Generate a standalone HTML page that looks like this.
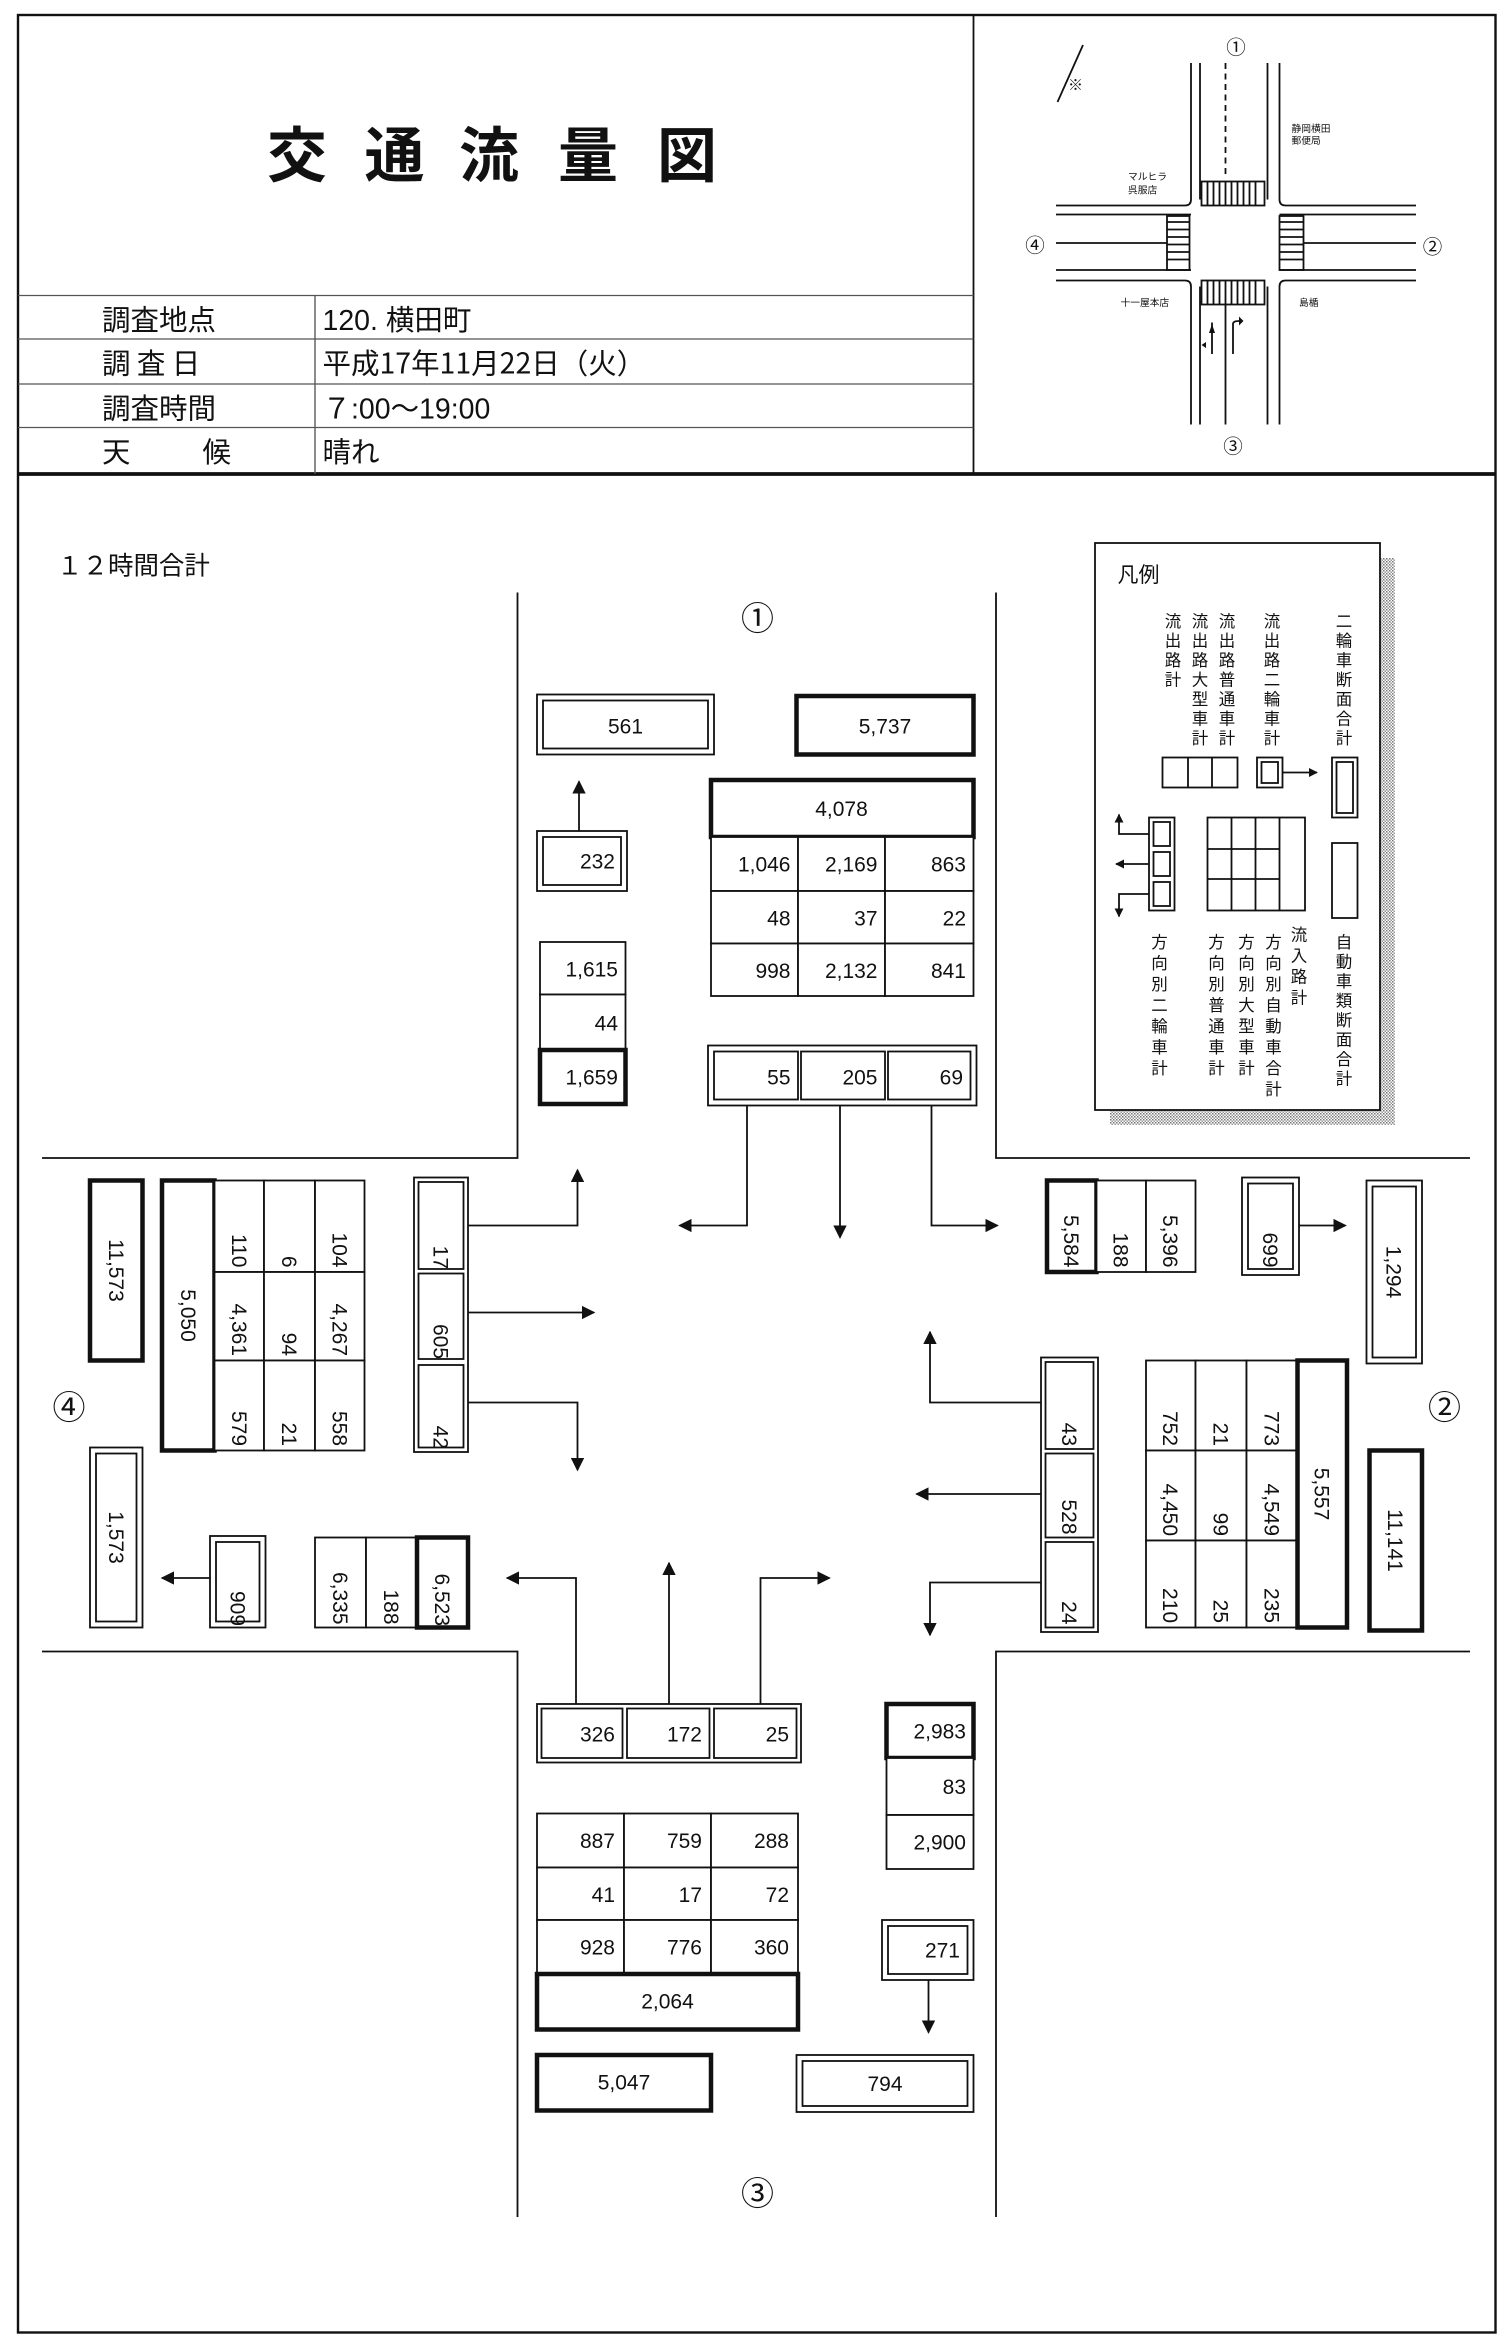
<!DOCTYPE html>
<html><head><meta charset="utf-8"><style>
html,body{margin:0;padding:0;background:#fff}
svg{display:block}
text{font-family:"Liberation Sans","Noto Sans CJK JP",sans-serif;fill:#111}
.n{font-size:14px}
.r{fill:#fff;stroke:#111;stroke-width:1.2}
.t{fill:#fff;stroke:#111;stroke-width:3}
.l{stroke:#111;stroke-width:1.2;fill:none}
.j{font-family:"Noto Sans CJK JP","Liberation Sans",sans-serif}
</style></head><body>
<svg width="1500" height="2338" viewBox="0 0 1000 1558.67" xmlns="http://www.w3.org/2000/svg">
<defs>
<marker id="a" viewBox="0 0 10 10" refX="9" refY="5" markerWidth="9" markerHeight="9" markerUnits="userSpaceOnUse" orient="auto"><path d="M0,0L10,5L0,10z" fill="#111"/></marker>
<marker id="s" viewBox="0 0 10 10" refX="9" refY="5" markerWidth="6" markerHeight="6" markerUnits="userSpaceOnUse" orient="auto"><path d="M0,0L10,5L0,10z" fill="#111"/></marker>
<pattern id="h" width="2" height="2" patternUnits="userSpaceOnUse"><rect width="1" height="1" fill="#777"/><rect x="1" y="1" width="1" height="1" fill="#999"/></pattern>
</defs>
<rect x="12" y="10" width="985" height="1545" fill="none" stroke="#111" stroke-width="1.6"/>
<line x1="12" y1="316" x2="997" y2="316" stroke="#111" stroke-width="2.5"/>
<line x1="649" y1="10" x2="649" y2="316" class="l"/>
<g stroke="#555" stroke-width="0.9">
<line x1="12" y1="197" x2="649" y2="197"/><line x1="12" y1="226" x2="649" y2="226"/>
<line x1="12" y1="256" x2="649" y2="256"/><line x1="12" y1="285" x2="649" y2="285"/>
<line x1="210" y1="197" x2="210" y2="316"/></g>
<g class="j" font-size="40" font-weight="bold" text-anchor="middle">
<text x="198" y="118" class="j">交</text><text x="263" y="118" class="j">通</text><text x="326" y="118" class="j">流</text><text x="392" y="118" class="j">量</text><text x="458" y="118" class="j">図</text></g>
<g font-size="19">
<text x="68" y="220" class="j">調査地点</text><text x="215" y="220">120. <tspan class="j">横田町</tspan></text>
<text x="68" y="249" class="j">調 査 日</text><text x="215" y="249" class="j">平成17年11月22日（火）</text>
<text x="68" y="279" class="j">調査時間</text><text x="215" y="279">７:00～19:00</text>
<text x="68" y="308" class="j">天</text><text x="135" y="308" class="j">候</text><text x="215" y="308" class="j">晴れ</text></g>
<g class="l" stroke-width="0.9">
<path d="M794,42V133M800,42V133M845,42V133M853,42V133"/>
<path d="M794,191V283M800,191V283M845,191V283M853,191V283"/>
<path d="M704,137H790M704,143H794M704,180H794M704,187H790"/>
<path d="M857,137H944M853,143H944M853,180H944M857,187H944"/>
<path d="M790,137Q794,137 794,133M857,137Q853,137 853,133M790,187Q794,187 794,191M857,187Q853,187 853,191"/>
<path d="M817,42V118" stroke-dasharray="4,3"/><path d="M704,162H778M869,162H944M817,203V283"/>
<rect x="801" y="121" width="42" height="16"/><rect x="801" y="187" width="42" height="16"/>
<rect x="778" y="144" width="15" height="36"/><rect x="853" y="144" width="16" height="36"/>
<path d="M805,121v16M809,121v16M813,121v16M817,121v16M821,121v16M825,121v16M829,121v16M833,121v16M837,121v16M805,187v16M809,187v16M813,187v16M817,187v16M821,187v16M825,187v16M829,187v16M833,187v16M837,187v16"/>
<path d="M778,148h15M778,153h15M778,158h15M778,163h15M778,168h15M778,173h15M853,148h16M853,153h16M853,158h16M853,163h16M853,168h16M853,173h16"/>
<path d="M808,236V215M822,236V216Q822,214 826,214" /><path d="M722,30L705,68"/>
</g>
<path d="M806,222l2,-6l2,6zM804,228l-3,2l3,2z M826,211l3,3l-3,3z" fill="#111"/>
<text x="712" y="60" font-size="10">※</text>
<g font-size="13" text-anchor="middle"><text x="824" y="36">①</text><text x="690" y="168">④</text><text x="955" y="169">②</text><text x="822" y="302">③</text></g>
<g font-size="6.5" class="j"><text x="752" y="120" class="j">マルヒラ</text><text x="752" y="129" class="j">呉服店</text>
<text x="861" y="88" class="j">静岡横田</text><text x="861" y="96" class="j">郵便局</text>
<text x="747" y="204" class="j">十一屋本店</text><text x="866" y="204" class="j">島楯</text></g>
<text x="38" y="383" font-size="17" class="j">１２時間合計</text>
<g class="l" stroke-width="1.4">
<path d="M345,395V772H28M664,395V772H980M28,1101H345V1478M980,1101H664V1478"/></g>
<g font-size="22" text-anchor="middle"><text x="505" y="420">①</text><text x="963" y="946">②</text><text x="505" y="1470">③</text><text x="46" y="946">④</text></g>

<rect x="740" y="372" width="190" height="378" fill="url(#h)"/>
<rect x="730" y="362" width="190" height="378" fill="#fff" stroke="#111" stroke-width="1.2"/>
<text x="745" y="388" font-size="14" class="j">凡例</text>
<g font-size="11" class="j" text-anchor="middle">
<text class="j" x="782" y="418"><tspan x="782">流</tspan><tspan x="782" dy="13">出</tspan><tspan x="782" dy="13">路</tspan><tspan x="782" dy="13">計</tspan></text>
<text class="j" x="800" y="418"><tspan x="800">流</tspan><tspan x="800" dy="13">出</tspan><tspan x="800" dy="13">路</tspan><tspan x="800" dy="13">大</tspan><tspan x="800" dy="13">型</tspan><tspan x="800" dy="13">車</tspan><tspan x="800" dy="13">計</tspan></text>
<text class="j" x="818" y="418"><tspan x="818">流</tspan><tspan x="818" dy="13">出</tspan><tspan x="818" dy="13">路</tspan><tspan x="818" dy="13">普</tspan><tspan x="818" dy="13">通</tspan><tspan x="818" dy="13">車</tspan><tspan x="818" dy="13">計</tspan></text>
<text class="j" x="848" y="418"><tspan x="848">流</tspan><tspan x="848" dy="13">出</tspan><tspan x="848" dy="13">路</tspan><tspan x="848" dy="13">二</tspan><tspan x="848" dy="13">輪</tspan><tspan x="848" dy="13">車</tspan><tspan x="848" dy="13">計</tspan></text>
<text class="j" x="896" y="418"><tspan x="896">二</tspan><tspan x="896" dy="13">輪</tspan><tspan x="896" dy="13">車</tspan><tspan x="896" dy="13">断</tspan><tspan x="896" dy="13">面</tspan><tspan x="896" dy="13">合</tspan><tspan x="896" dy="13">計</tspan></text>
<text class="j" x="773" y="632"><tspan x="773">方</tspan><tspan x="773" dy="14">向</tspan><tspan x="773" dy="14">別</tspan><tspan x="773" dy="14">二</tspan><tspan x="773" dy="14">輪</tspan><tspan x="773" dy="14">車</tspan><tspan x="773" dy="14">計</tspan></text>
<text class="j" x="811" y="632"><tspan x="811">方</tspan><tspan x="811" dy="14">向</tspan><tspan x="811" dy="14">別</tspan><tspan x="811" dy="14">普</tspan><tspan x="811" dy="14">通</tspan><tspan x="811" dy="14">車</tspan><tspan x="811" dy="14">計</tspan></text>
<text class="j" x="831" y="632"><tspan x="831">方</tspan><tspan x="831" dy="14">向</tspan><tspan x="831" dy="14">別</tspan><tspan x="831" dy="14">大</tspan><tspan x="831" dy="14">型</tspan><tspan x="831" dy="14">車</tspan><tspan x="831" dy="14">計</tspan></text>
<text class="j" x="849" y="632"><tspan x="849">方</tspan><tspan x="849" dy="14">向</tspan><tspan x="849" dy="14">別</tspan><tspan x="849" dy="14">自</tspan><tspan x="849" dy="14">動</tspan><tspan x="849" dy="14">車</tspan><tspan x="849" dy="14">合</tspan><tspan x="849" dy="14">計</tspan></text>
<text class="j" x="866" y="627"><tspan x="866">流</tspan><tspan x="866" dy="14">入</tspan><tspan x="866" dy="14">路</tspan><tspan x="866" dy="14">計</tspan></text>
<text class="j" x="896" y="632"><tspan x="896">自</tspan><tspan x="896" dy="13">動</tspan><tspan x="896" dy="13">車</tspan><tspan x="896" dy="13">類</tspan><tspan x="896" dy="13">断</tspan><tspan x="896" dy="13">面</tspan><tspan x="896" dy="13">合</tspan><tspan x="896" dy="13">計</tspan></text>
</g>
<g class="l" stroke-width="1.1">
<rect x="775" y="505" width="50" height="20" fill="#fff"/><path d="M792,505v20M808,505v20"/>
<rect x="838" y="505" width="17" height="20"/><rect x="841" y="508" width="11" height="14"/>
<path d="M855,515H878" marker-end="url(#s)"/>
<rect x="888" y="505" width="17" height="40"/><rect x="891" y="508" width="11" height="34"/>
<rect x="766" y="545" width="17" height="62"/><rect x="769" y="548" width="11" height="16"/><rect x="769" y="568" width="11" height="16"/><rect x="769" y="588" width="11" height="16"/>
<path d="M766,556H746V543" marker-end="url(#s)"/><path d="M766,576H744" marker-end="url(#s)"/><path d="M766,596H746V611" marker-end="url(#s)"/>
<rect x="805" y="545" width="65" height="62"/><path d="M821,545v62M837,545v62M853,545v62M805,566h48M805,586h48"/>
<rect x="888" y="562" width="17" height="50"/>
</g>

<rect class="r" x="358" y="463" width="118" height="40"/><rect class="r" x="362" y="467" width="110" height="32"/><text class="n" x="417" y="489" text-anchor="middle">561</text>
<rect class="t" x="531" y="464" width="118" height="39"/><text class="n" x="590" y="489" text-anchor="middle">5,737</text>
<rect class="t" x="474" y="520" width="175" height="38"/><text class="n" x="561" y="544" text-anchor="middle">4,078</text>
<g class="n" text-anchor="end">
<rect class="r" x="474" y="558" width="58" height="36"/><rect class="r" x="532" y="558" width="58" height="36"/><rect class="r" x="590" y="558" width="59" height="36"/>
<rect class="r" x="474" y="594" width="58" height="35"/><rect class="r" x="532" y="594" width="58" height="35"/><rect class="r" x="590" y="594" width="59" height="35"/>
<rect class="r" x="474" y="629" width="58" height="35"/><rect class="r" x="532" y="629" width="58" height="35"/><rect class="r" x="590" y="629" width="59" height="35"/>
<text x="527" y="581">1,046</text><text x="585" y="581">2,169</text><text x="644" y="581">863</text>
<text x="527" y="617">48</text><text x="585" y="617">37</text><text x="644" y="617">22</text>
<text x="527" y="652">998</text><text x="585" y="652">2,132</text><text x="644" y="652">841</text>
<rect class="r" x="358" y="554" width="60" height="40"/><rect class="r" x="362" y="558" width="52" height="32"/><text x="410" y="579">232</text>
<rect class="r" x="360" y="628" width="57" height="35"/><text x="412" y="651">1,615</text>
<rect class="r" x="360" y="663" width="57" height="37"/><text x="412" y="687">44</text>
<rect class="t" x="360" y="700" width="57" height="36"/><text x="412" y="723">1,659</text>
<rect class="r" x="472" y="697" width="179" height="40"/>
<rect class="r" x="476" y="701" width="56" height="32"/><rect class="r" x="534" y="701" width="56" height="32"/><rect class="r" x="592" y="701" width="55" height="32"/>
<text x="527" y="723">55</text><text x="585" y="723">205</text><text x="642" y="723">69</text>
</g>
<g class="l">
<path d="M386,554V521" marker-end="url(#a)"/>
<path d="M498,737V817H453" marker-end="url(#a)"/>
<path d="M560,737V825" marker-end="url(#a)"/>
<path d="M621,737V817H665" marker-end="url(#a)"/>
</g>

<g class="n">
<rect class="t" x="60" y="787" width="35" height="120"/><text transform="translate(77.5,847) rotate(90)" y="5" text-anchor="middle">11,573</text>
<rect class="t" x="108" y="787" width="35" height="180"/><text transform="translate(125.5,877) rotate(90)" y="5" text-anchor="middle">5,050</text>
<rect class="r" x="143" y="787" width="33" height="61"/><rect class="r" x="176" y="787" width="34" height="61"/><rect class="r" x="210" y="787" width="33" height="61"/>
<rect class="r" x="143" y="848" width="33" height="59"/><rect class="r" x="176" y="848" width="34" height="59"/><rect class="r" x="210" y="848" width="33" height="59"/>
<rect class="r" x="143" y="907" width="33" height="60"/><rect class="r" x="176" y="907" width="34" height="60"/><rect class="r" x="210" y="907" width="33" height="60"/>
<g text-anchor="end">
<text transform="translate(159.5,845) rotate(90)" y="5">110</text><text transform="translate(193,845) rotate(90)" y="5">6</text><text transform="translate(226.5,845) rotate(90)" y="5">104</text>
<text transform="translate(159.5,904) rotate(90)" y="5">4,361</text><text transform="translate(193,904) rotate(90)" y="5">94</text><text transform="translate(226.5,904) rotate(90)" y="5">4,267</text>
<text transform="translate(159.5,964) rotate(90)" y="5">579</text><text transform="translate(193,964) rotate(90)" y="5">21</text><text transform="translate(226.5,964) rotate(90)" y="5">558</text>
<rect class="r" x="276" y="785" width="36" height="183"/>
<rect class="r" x="279" y="788" width="30" height="58"/><rect class="r" x="279" y="849" width="30" height="57"/><rect class="r" x="279" y="910" width="30" height="55"/>
<text transform="translate(294,846) rotate(90)" y="5">17</text><text transform="translate(294,906) rotate(90)" y="5">605</text><text transform="translate(294,966) rotate(90)" y="5">42</text>
<rect class="r" x="140" y="1024" width="37" height="61"/><rect class="r" x="144" y="1028" width="29" height="53"/>
<text transform="translate(158.5,1084) rotate(90)" y="5">909</text>
<rect class="r" x="210" y="1025" width="34" height="60"/><rect class="r" x="244" y="1025" width="34" height="60"/><rect class="t" x="278" y="1025" width="34" height="60"/>
<text transform="translate(227,1083) rotate(90)" y="5">6,335</text><text transform="translate(261,1083) rotate(90)" y="5">188</text><text transform="translate(295,1084) rotate(90)" y="5">6,523</text>
</g>
<rect class="r" x="60" y="965" width="35" height="120"/><rect class="r" x="64" y="969" width="27" height="112"/>
<text transform="translate(77.5,1025) rotate(90)" y="5" text-anchor="middle">1,573</text>
</g>
<g class="l">
<path d="M312,817H385V780" marker-end="url(#a)"/>
<path d="M312,875H396" marker-end="url(#a)"/>
<path d="M312,935H385V980" marker-end="url(#a)"/>
<path d="M140,1052H108" marker-end="url(#a)"/>
<path d="M384,1137V1052H338" marker-end="url(#a)"/>
<path d="M446,1137V1042" marker-end="url(#a)"/>
<path d="M507,1137V1052H553" marker-end="url(#a)"/>
</g>

<g class="n" text-anchor="end">
<rect class="r" x="358" y="1136" width="176" height="39"/>
<rect class="r" x="361" y="1139" width="54" height="33"/><rect class="r" x="418" y="1139" width="55" height="33"/><rect class="r" x="476" y="1139" width="55" height="33"/>
<text x="410" y="1161">326</text><text x="468" y="1161">172</text><text x="526" y="1161">25</text>
<rect class="t" x="591" y="1136" width="58" height="36"/><text x="644" y="1159">2,983</text>
<rect class="r" x="591" y="1172" width="58" height="38"/><text x="644" y="1196">83</text>
<rect class="r" x="591" y="1210" width="58" height="36"/><text x="644" y="1233">2,900</text>
<rect class="r" x="358" y="1209" width="58" height="36"/><rect class="r" x="416" y="1209" width="58" height="36"/><rect class="r" x="474" y="1209" width="58" height="36"/>
<rect class="r" x="358" y="1245" width="58" height="35"/><rect class="r" x="416" y="1245" width="58" height="35"/><rect class="r" x="474" y="1245" width="58" height="35"/>
<rect class="r" x="358" y="1280" width="58" height="36"/><rect class="r" x="416" y="1280" width="58" height="36"/><rect class="r" x="474" y="1280" width="58" height="36"/>
<text x="410" y="1232">887</text><text x="468" y="1232">759</text><text x="526" y="1232">288</text>
<text x="410" y="1268">41</text><text x="468" y="1268">17</text><text x="526" y="1268">72</text>
<text x="410" y="1303">928</text><text x="468" y="1303">776</text><text x="526" y="1303">360</text>
<rect class="r" x="588" y="1280" width="61" height="40"/><rect class="r" x="592" y="1284" width="53" height="32"/><text x="640" y="1305">271</text>
</g>
<g class="n" text-anchor="middle">
<rect class="t" x="358" y="1316" width="174" height="37"/><text x="445" y="1339">2,064</text>
<rect class="t" x="358" y="1370" width="116" height="37"/><text x="416" y="1393">5,047</text>
<rect class="r" x="531" y="1370" width="118" height="38"/><rect class="r" x="535" y="1374" width="110" height="30"/><text x="590" y="1394">794</text>
</g>
<path class="l" d="M619,1320V1355" marker-end="url(#a)"/>

<g class="n">
<g text-anchor="end">
<rect class="t" x="698" y="787" width="33" height="61"/><rect class="r" x="731" y="787" width="33" height="61"/><rect class="r" x="764" y="787" width="33" height="61"/>
<text transform="translate(714.5,845) rotate(90)" y="5">5,584</text><text transform="translate(747.5,845) rotate(90)" y="5">188</text><text transform="translate(780.5,845) rotate(90)" y="5">5,396</text>
<rect class="r" x="828" y="785" width="38" height="65"/><rect class="r" x="832" y="789" width="30" height="57"/>
<text transform="translate(847,845) rotate(90)" y="5">699</text>
<rect class="r" x="694" y="905" width="38" height="183"/>
<rect class="r" x="697" y="908" width="32" height="58"/><rect class="r" x="697" y="969" width="32" height="56"/><rect class="r" x="697" y="1028" width="32" height="57"/>
<text transform="translate(713,964) rotate(90)" y="5">43</text><text transform="translate(713,1023) rotate(90)" y="5">528</text><text transform="translate(713,1083) rotate(90)" y="5">24</text>
<rect class="r" x="764" y="907" width="33" height="60"/><rect class="r" x="797" y="907" width="34" height="60"/><rect class="r" x="831" y="907" width="34" height="60"/>
<rect class="r" x="764" y="967" width="33" height="60"/><rect class="r" x="797" y="967" width="34" height="60"/><rect class="r" x="831" y="967" width="34" height="60"/>
<rect class="r" x="764" y="1027" width="33" height="58"/><rect class="r" x="797" y="1027" width="34" height="58"/><rect class="r" x="831" y="1027" width="34" height="58"/>
<text transform="translate(780.5,964) rotate(90)" y="5">752</text><text transform="translate(814,964) rotate(90)" y="5">21</text><text transform="translate(848,964) rotate(90)" y="5">773</text>
<text transform="translate(780.5,1024) rotate(90)" y="5">4,450</text><text transform="translate(814,1024) rotate(90)" y="5">99</text><text transform="translate(848,1024) rotate(90)" y="5">4,549</text>
<text transform="translate(780.5,1082) rotate(90)" y="5">210</text><text transform="translate(814,1082) rotate(90)" y="5">25</text><text transform="translate(848,1082) rotate(90)" y="5">235</text>
</g>
<g text-anchor="middle">
<rect class="r" x="911" y="787" width="37" height="122"/><rect class="r" x="915" y="791" width="29" height="114"/>
<text transform="translate(929.5,848) rotate(90)" y="5">1,294</text>
<rect class="t" x="865" y="907" width="33" height="178"/><text transform="translate(881.5,996) rotate(90)" y="5">5,557</text>
<rect class="t" x="913" y="967" width="35" height="120"/><text transform="translate(930.5,1027) rotate(90)" y="5">11,141</text>
</g>
</g>
<g class="l">
<path d="M866,817H897" marker-end="url(#a)"/>
<path d="M694,935H620V888" marker-end="url(#a)"/>
<path d="M694,996H611" marker-end="url(#a)"/>
<path d="M694,1055H620V1090" marker-end="url(#a)"/>
</g>
</svg>
</body></html>
